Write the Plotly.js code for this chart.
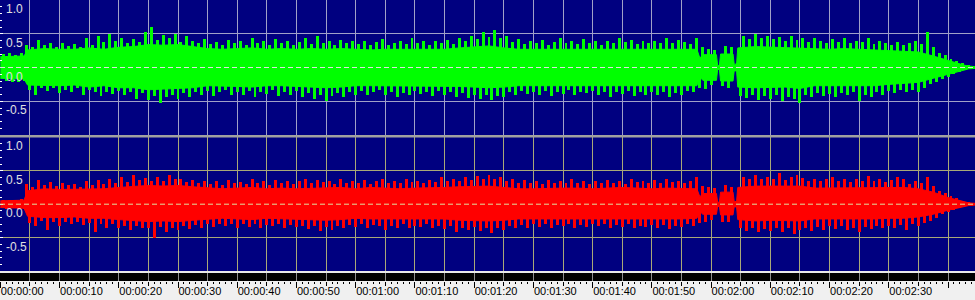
<!DOCTYPE html>
<html>
<head>
<meta charset="utf-8">
<script src="https://cdn.plot.ly/plotly-3.0.1.min.js"></script>
<style>html,body{margin:0;padding:0;background:#000080;}#chart{width:975px;height:300px;}</style>
</head>
<body>
<div id="chart"></div>
<script>
// time (seconds) of dense-body envelope readings
var t = [0,2.5,4.0,4.6,7.5,10,12.5,15,17.5,20,22.5,25,27.5,30,32.5,35,37.5,40,42.5,45,47.5,50,52.5,55,57.5,60,62.5,65,67.5,70,72.5,75,77.5,80,82.5,85,87.5,90,92.5,95,97.5,100,102.5,105,107.5,110,112.5,115,117.6,118.1,118.6,120.9,121.1,121.4,121.6,123.7,123.9,124.3,124.5,127.5,130,132.5,135,137.5,140,142.5,145,147.5,150,152.5,155,157.5,160,162.5,163.5,165];
// left channel (top, green) dense body
var leftUp = [0.16,0.17,0.17,0.26,0.28,0.27,0.27,0.29,0.27,0.30,
  0.31,0.34,0.33,0.34,0.31,0.28,0.27,0.28,0.29,0.27,
  0.28,0.27,0.28,0.27,0.28,0.27,0.26,0.27,0.27,0.28,
  0.27,0.27,0.29,0.31,0.32,0.29,0.27,0.27,0.27,0.28,
  0.27,0.27,0.27,0.28,0.27,0.27,0.28,0.27,0.27,0.14,
  0.19,0.19,0.03,0.03,0.20,0.20,0.05,0.05,0.29,0.31,
  0.30,0.29,0.29,0.27,0.27,0.28,0.27,0.27,0.26,0.25,
  0.23,0.17,0.10,0.04,0.02,0.01];
var leftDn = [-0.16,-0.17,-0.17,-0.26,-0.27,-0.27,-0.26,-0.29,-0.27,-0.30,
  -0.30,-0.33,-0.32,-0.31,-0.30,-0.27,-0.27,-0.28,-0.29,-0.27,
  -0.27,-0.28,-0.29,-0.30,-0.29,-0.27,-0.27,-0.27,-0.28,-0.28,
  -0.27,-0.27,-0.28,-0.29,-0.30,-0.29,-0.27,-0.27,-0.27,-0.28,
  -0.27,-0.27,-0.27,-0.28,-0.27,-0.27,-0.28,-0.27,-0.27,-0.14,
  -0.19,-0.19,-0.03,-0.03,-0.20,-0.20,-0.05,-0.05,-0.29,-0.30,
  -0.29,-0.29,-0.31,-0.27,-0.27,-0.27,-0.28,-0.27,-0.25,-0.24,
  -0.22,-0.16,-0.10,-0.04,-0.02,-0.01];
// right channel (bottom, red) dense body
var rightUp = [0.05,0.05,0.06,0.20,0.23,0.22,0.22,0.22,0.23,0.25,
  0.26,0.28,0.27,0.28,0.26,0.25,0.23,0.24,0.25,0.23,
  0.24,0.23,0.24,0.24,0.25,0.23,0.25,0.24,0.23,0.24,
  0.24,0.25,0.26,0.27,0.27,0.25,0.23,0.23,0.24,0.24,
  0.24,0.23,0.24,0.25,0.24,0.23,0.24,0.24,0.23,0.11,
  0.16,0.16,0.03,0.03,0.18,0.18,0.04,0.04,0.25,0.27,
  0.27,0.26,0.27,0.24,0.24,0.25,0.24,0.25,0.24,0.25,
  0.23,0.18,0.10,0.04,0.02,0.01];
var rightDn = [-0.05,-0.05,-0.06,-0.18,-0.20,-0.20,-0.19,-0.21,-0.21,-0.23,
  -0.24,-0.26,-0.25,-0.26,-0.24,-0.22,-0.21,-0.22,-0.23,-0.21,
  -0.22,-0.23,-0.23,-0.24,-0.23,-0.21,-0.22,-0.22,-0.23,-0.23,
  -0.22,-0.22,-0.24,-0.25,-0.25,-0.24,-0.22,-0.22,-0.22,-0.23,
  -0.22,-0.22,-0.22,-0.23,-0.22,-0.22,-0.23,-0.22,-0.21,-0.11,
  -0.15,-0.15,-0.03,-0.03,-0.16,-0.16,-0.04,-0.04,-0.23,-0.25,
  -0.24,-0.24,-0.25,-0.22,-0.22,-0.23,-0.23,-0.22,-0.21,-0.21,
  -0.19,-0.15,-0.09,-0.04,-0.02,-0.01];
// peak spikes, one per second (positive at s+0.5, negative at s+1)
var leftPeakUp = [0.20,0.21,0.19,0.22,0.34,0.30,0.41,0.33,0.36,0.31,
  0.37,0.32,0.35,0.30,0.43,0.34,0.46,0.38,0.50,0.40,
  0.44,0.36,0.42,0.38,0.52,0.60,0.41,0.48,0.44,0.50,
  0.38,0.46,0.40,0.36,0.42,0.35,0.38,0.33,0.41,0.36,
  0.39,0.34,0.44,0.36,0.40,0.33,0.42,0.37,0.40,0.34,
  0.38,0.43,0.35,0.46,0.37,0.40,0.34,0.41,0.36,0.39,
  0.35,0.40,0.33,0.38,0.42,0.34,0.37,0.40,0.35,0.43,
  0.37,0.40,0.34,0.39,0.36,0.41,0.35,0.44,0.40,0.47,
  0.42,0.52,0.45,0.55,0.43,0.46,0.38,0.42,0.35,0.40,
  0.36,0.41,0.34,0.38,0.43,0.36,0.40,0.35,0.42,0.37,
  0.39,0.34,0.40,0.36,0.43,0.38,0.41,0.35,0.39,0.36,
  0.40,0.37,0.43,0.36,0.41,0.38,0.35,0.44,0.30,0.28,
  0.26,0.05,0.32,0.30,0.06,0.46,0.42,0.50,0.44,0.47,
  0.42,0.45,0.40,0.46,0.41,0.44,0.38,0.43,0.40,0.37,
  0.42,0.38,0.44,0.36,0.40,0.38,0.43,0.35,0.40,0.37,
  0.34,0.38,0.33,0.36,0.40,0.35,0.53,0.30,0.22,0.18,
  0.13,0.10,0.06,0.03,0.01];
var leftPeakDn = [-0.20,-0.21,-0.22,-0.20,-0.33,-0.40,-0.31,-0.35,-0.30,-0.38,
  -0.33,-0.36,-0.31,-0.40,-0.34,-0.37,-0.42,-0.36,-0.39,-0.35,
  -0.41,-0.37,-0.46,-0.38,-0.48,-0.42,-0.53,-0.44,-0.40,-0.47,
  -0.38,-0.44,-0.36,-0.40,-0.35,-0.42,-0.37,-0.34,-0.41,-0.36,
  -0.40,-0.35,-0.43,-0.37,-0.39,-0.34,-0.42,-0.36,-0.40,-0.35,
  -0.44,-0.38,-0.47,-0.40,-0.50,-0.42,-0.38,-0.44,-0.36,-0.40,
  -0.35,-0.41,-0.37,-0.34,-0.40,-0.36,-0.43,-0.38,-0.41,-0.35,
  -0.39,-0.36,-0.42,-0.35,-0.40,-0.37,-0.43,-0.38,-0.45,-0.41,
  -0.46,-0.40,-0.48,-0.42,-0.44,-0.37,-0.40,-0.35,-0.39,-0.36,
  -0.40,-0.35,-0.42,-0.37,-0.39,-0.34,-0.41,-0.36,-0.38,-0.35,
  -0.40,-0.36,-0.43,-0.37,-0.39,-0.35,-0.42,-0.36,-0.40,-0.37,
  -0.41,-0.36,-0.44,-0.38,-0.40,-0.35,-0.37,-0.30,-0.32,-0.26,
  -0.04,-0.28,-0.30,-0.05,-0.42,-0.45,-0.40,-0.48,-0.42,-0.46,
  -0.40,-0.50,-0.43,-0.47,-0.52,-0.41,-0.44,-0.38,-0.42,-0.39,
  -0.44,-0.38,-0.41,-0.36,-0.50,-0.40,-0.43,-0.37,-0.40,-0.35,
  -0.38,-0.34,-0.37,-0.33,-0.36,-0.30,-0.25,-0.22,-0.17,-0.14,
  -0.10,-0.06,-0.04,-0.02,-0.01];
var rightPeakUp = [0.07,0.06,0.07,0.08,0.30,0.26,0.36,0.28,0.33,0.27,
  0.32,0.28,0.30,0.26,0.34,0.29,0.36,0.30,0.38,0.32,
  0.40,0.33,0.43,0.36,0.39,0.34,0.41,0.35,0.44,0.37,
  0.38,0.33,0.36,0.31,0.35,0.30,0.34,0.29,0.36,0.31,
  0.33,0.30,0.37,0.31,0.34,0.29,0.36,0.32,0.35,0.30,
  0.34,0.38,0.31,0.36,0.33,0.35,0.30,0.37,0.32,0.34,
  0.31,0.36,0.30,0.34,0.38,0.32,0.35,0.31,0.37,0.33,
  0.35,0.31,0.36,0.33,0.41,0.34,0.38,0.35,0.40,0.36,
  0.42,0.37,0.44,0.38,0.40,0.35,0.37,0.32,0.36,0.31,
  0.35,0.30,0.36,0.32,0.34,0.31,0.37,0.32,0.35,0.30,
  0.34,0.31,0.36,0.32,0.35,0.30,0.37,0.33,0.34,0.31,
  0.36,0.32,0.38,0.33,0.35,0.31,0.34,0.40,0.27,0.25,
  0.24,0.04,0.28,0.26,0.05,0.40,0.37,0.43,0.38,0.41,
  0.37,0.46,0.36,0.40,0.44,0.39,0.34,0.38,0.35,0.37,
  0.40,0.34,0.38,0.33,0.37,0.35,0.42,0.34,0.38,0.33,
  0.36,0.40,0.37,0.30,0.34,0.31,0.40,0.27,0.20,0.17,
  0.12,0.09,0.05,0.03,0.01];
var rightPeakDn = [-0.07,-0.06,-0.07,-0.07,-0.28,-0.33,-0.25,-0.38,-0.27,-0.32,
  -0.27,-0.30,-0.26,-0.31,-0.28,-0.42,-0.29,-0.35,-0.30,-0.36,
  -0.32,-0.38,-0.33,-0.36,-0.36,-0.50,-0.34,-0.42,-0.35,-0.39,
  -0.33,-0.37,-0.31,-0.35,-0.30,-0.34,-0.29,-0.33,-0.30,-0.35,
  -0.30,-0.34,-0.29,-0.36,-0.31,-0.33,-0.30,-0.35,-0.31,-0.34,
  -0.32,-0.37,-0.33,-0.40,-0.34,-0.38,-0.32,-0.36,-0.31,-0.34,
  -0.30,-0.35,-0.31,-0.33,-0.38,-0.32,-0.35,-0.30,-0.36,-0.32,
  -0.34,-0.30,-0.35,-0.32,-0.37,-0.33,-0.42,-0.35,-0.38,-0.34,
  -0.40,-0.35,-0.43,-0.36,-0.38,-0.33,-0.36,-0.31,-0.35,-0.30,
  -0.34,-0.30,-0.36,-0.31,-0.33,-0.30,-0.35,-0.31,-0.34,-0.30,
  -0.33,-0.30,-0.36,-0.31,-0.34,-0.30,-0.35,-0.32,-0.34,-0.31,
  -0.35,-0.31,-0.37,-0.32,-0.34,-0.30,-0.33,-0.28,-0.26,-0.24,
  -0.04,-0.26,-0.27,-0.04,-0.36,-0.40,-0.35,-0.42,-0.37,-0.40,
  -0.36,-0.41,-0.35,-0.44,-0.38,-0.36,-0.40,-0.34,-0.38,-0.33,
  -0.37,-0.33,-0.38,-0.35,-0.42,-0.34,-0.37,-0.33,-0.36,-0.32,
  -0.35,-0.31,-0.38,-0.30,-0.33,-0.28,-0.25,-0.20,-0.15,-0.12,
  -0.08,-0.05,-0.03,-0.02,-0.01];
// sample grid for the peaks (one per second)
var tPeakUp = leftPeakUp.map(function(_, i){ return i + 0.5; });
var tPeakDn = leftPeakDn.map(function(_, i){ return i + 1; });
// axis ticks
var ampTicks = [1.0, 0.5, 0.0, -0.5];
var ampLabels = ['1.0', '0.5', '0.0', '-0.5'];
var timeTicks = [0,10,20,30,40,50,60,70,80,90,100,110,120,130,140,150,160];
var timeLabels = timeTicks.map(function(s){
  var m = Math.floor(s/60), ss = s%60;
  return '00:0' + m + ':' + (ss<10?'0':'') + ss;
});

var NAVY = '#000080';
var gridTop = '#a0a0c8';
var gridBot = '#a8a878';
var xr = [-0.05, 164.55];

function band(up, dn, pkUp, pkDn, color, xa, ya){
  return [
    {x:t, y:dn, xaxis:xa, yaxis:ya, type:'scatter', mode:'lines', line:{color:color, width:1}, hoverinfo:'skip', showlegend:false},
    {x:t, y:up, xaxis:xa, yaxis:ya, type:'scatter', mode:'lines', line:{color:color, width:1}, fill:'tonexty', fillcolor:color, hoverinfo:'skip', showlegend:false},
    {x:tPeakUp, y:pkUp, base:0, width:0.5, xaxis:xa, yaxis:ya, type:'bar', marker:{color:color, line:{width:0}}, hoverinfo:'skip', showlegend:false},
    {x:tPeakDn, y:pkDn, base:0, width:0.5, xaxis:xa, yaxis:ya, type:'bar', marker:{color:color, line:{width:0}}, hoverinfo:'skip', showlegend:false}
  ];
}
var data = [].concat(
  band(leftUp, leftDn, leftPeakUp, leftPeakDn, '#00ff00', 'x', 'y'),
  band(rightUp, rightDn, rightPeakUp, rightPeakDn, '#ff0000', 'x2', 'y2')
);

function yax(domain, grid){
  return {domain:domain, range:[-1,1], fixedrange:true, zeroline:false,
    tickmode:'array', tickvals:ampTicks, ticktext:ampLabels,
    ticks:'inside', ticklen:3, tickcolor:'#ffffff',
    ticklabelposition:'inside bottom', ticklabelstandoff:3,
    tickfont:{family:'Liberation Sans, Arial, sans-serif', size:12, color:'#e0e0e0'},
    showgrid:true, gridcolor:grid, gridwidth:1,
    minor:{dtick:0.1, ticks:'inside', ticklen:2, tickcolor:'#ffffff', showgrid:false},
    showline:false};
}
function xax(anchor, grid){
  return {anchor:anchor, domain:[0,1], range:xr, fixedrange:true, zeroline:false,
    tickmode:'linear', tick0:0, dtick:5, showgrid:true, gridcolor:grid, gridwidth:1,
    showticklabels:false, ticks:'', showline:false};
}

var layout = {
  width:975, height:300, margin:{l:0,r:0,t:0,b:0,pad:0},
  paper_bgcolor:NAVY, plot_bgcolor:NAVY, showlegend:false, barmode:'overlay', bargap:0,
  xaxis: xax('y', gridTop),
  yaxis: yax([1-135/300, 1], gridTop),
  xaxis2: xax('y2', gridBot),
  yaxis2: yax([1-271.2/300, 1-137.2/300], gridBot),
  xaxis3: {anchor:'y3', domain:[0,1], range:xr, fixedrange:true, zeroline:false,
    tickmode:'linear', tick0:0, dtick:5, showgrid:true, gridcolor:'#909090',
    ticks:'outside', ticklen:4, tickcolor:'#000000', showticklabels:false, showline:false,
    minor:{dtick:1, ticks:'outside', ticklen:2, tickcolor:'#000000', showgrid:false}},
  yaxis3: {domain:[1-281/300, 1-273/300], range:[0,1], visible:false, fixedrange:true},
  xaxis4: {anchor:'y3', overlaying:'x3', domain:[0,1], range:xr, fixedrange:true, zeroline:false,
    tickmode:'array', tickvals:timeTicks, ticktext:timeLabels, showgrid:false,
    ticks:'outside', ticklen:6, tickcolor:'#000000', ticklabelposition:'outside right',
    tickfont:{family:'Liberation Sans, Arial, sans-serif', size:11, color:'#000000'}, showline:false},
  shapes: [
    {type:'rect', xref:'paper', yref:'paper', x0:0, x1:1, y0:0, y1:1-281/300, fillcolor:'#f0f0f0', line:{width:0}, layer:'below'},
    {type:'rect', xref:'paper', yref:'paper', x0:0, x1:1, y0:1-281/300, y1:1-273/300, fillcolor:'#000000', line:{width:0}, layer:'below'},
    {type:'rect', xref:'paper', yref:'paper', x0:0, x1:1, y0:1-273/300, y1:1-271/300, fillcolor:'#e8e8e8', line:{width:0}, layer:'above'},
    {type:'rect', xref:'paper', yref:'paper', x0:0, x1:1, y0:1-137.5/300, y1:1-135/300, fillcolor:'#a0a0a0', line:{width:0}, layer:'above'},
    {type:'line', xref:'paper', yref:'y', x0:0, x1:1, y0:0, y1:0, line:{color:'#e0e0e0', width:1, dash:'5px,3px'}, layer:'above'},
    {type:'line', xref:'paper', yref:'y2', x0:0, x1:1, y0:0, y1:0, line:{color:'#e0e0a0', width:1, dash:'5px,3px'}, layer:'above'}
  ]
};
data.push({x:[0], y:[0.5], xaxis:'x4', yaxis:'y3', type:'scatter', mode:'markers', marker:{opacity:0}, hoverinfo:'skip', showlegend:false});
data.push({x:[0], y:[0.5], xaxis:'x3', yaxis:'y3', type:'scatter', mode:'markers', marker:{opacity:0}, hoverinfo:'skip', showlegend:false});
Plotly.newPlot('chart', data, layout, {staticPlot:true, displayModeBar:false});
</script>
</body>
</html>
